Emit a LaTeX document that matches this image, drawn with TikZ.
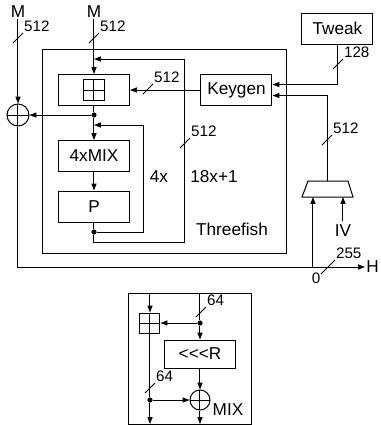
\documentclass[tikz,border=0pt]{standalone}
\usepackage{fontspec}
\setmainfont{Liberation Sans}
\usetikzlibrary{arrows.meta}

\tikzset{
  lbl/.style={font=\fontsize{8.6}{10}\selectfont, inner sep=0.5pt},
  num/.style={font=\fontsize{7.6}{8}\selectfont, inner sep=0.3pt},
  blk/.style={draw, minimum width=35.5pt, minimum height=15.5pt, inner sep=0pt,
    font=\fontsize{8.6}{10}\selectfont},
  cross/.style={path picture={\draw (path picture bounding box.north) -- (path picture bounding box.south)
    (path picture bounding box.west) -- (path picture bounding box.east);}},
  addsq/.style={draw, minimum size=#1, inner sep=0pt, cross},
  addsq/.default=10.5pt,
  xorc/.style={draw, circle, minimum size=#1, inner sep=0pt, cross},
  xorc/.default=11pt,
  dot/.style={circle, fill, inner sep=0pt, minimum size=2.6pt},
  arr/.style={-{Triangle[length=3.4pt,width=2.5pt]}},
  pics/bus/.style={code={\draw (-5,5) -- (5,-5) node[num, anchor=south west] {#1};}}
}

\begin{document}
\begin{tikzpicture}[x=0.5pt,y=-0.5pt,line width=0.5pt]
  \useasboundingbox (0,0) rectangle (381,425);

  \node[draw, minimum width=122pt, minimum height=102pt] (tf) at (165,151) {};
  \node[lbl] (tflbl) at (232,229) {Threefish};
  \node[lbl] (rounds) at (214,177) {18x+1};
  \node[lbl] (four) at (159,177) {4x};

  \node[lbl] (mL) at (18,12) {M};
  \node[lbl] (mR) at (94,12) {M};
  \node[xorc] (xorL) at (18,115) {};
  \node[blk] (add) at (94,90) {};
  \node[addsq] (addg) at (add) {};
  \node[dot] (j1) at (94,115) {};
  \node[blk] (mix4) at (94,156) {4xMIX};
  \node[blk] (perm) at (94,206.5) {P};
  \node[dot] (j2) at (94,232) {};
  \node[blk] (keygen) at (236.5,90) {Keygen};
  \node[blk] (tweak) at (337.5,28.5) {Tweak};
  \draw (302,197) coordinate (muxbl) -- (308,181) -- (348,181) -- (353,197) -- cycle;
  \coordinate (muxtop) at (327.5,181);
  \coordinate (muxbot) at (327.5,197);
  \node[lbl] (iv) at (343,231) {IV};
  \node[lbl, anchor=west] (H) at (365,267) {H};

  \coordinate (in1) at (94,59);
  \coordinate (lp1) at (185,242);
  \coordinate (in2) at (94,125);
  \coordinate (lp2) at (144,232);
  \coordinate (m0) at (313,267);

  \draw[arr] (mL) -- (xorL);
  \draw[arr] (mR) -- (add);
  \draw (add) -- (j1);
  \draw[arr] (j1) -- (xorL);
  \draw[arr] (j1) -- (mix4);
  \draw[arr] (mix4) -- (perm);
  \draw (perm) -- (j2);
  \draw[arr] (j2) -- (lp2) |- (in2);
  \draw[arr] (j2) |- (lp1) |- (in1);
  \draw[arr] (keygen) -- (add);
  \draw[arr] (tweak.south) |- ([yshift=2.75pt]keygen.east);
  \draw[arr] (muxtop) |- ([yshift=-2.75pt]keygen.east);
  \draw[arr] (xorL) |- (H.west);
  \draw[arr] (m0) -- (m0 |- muxbot);
  \draw[arr] ([yshift=1.5pt]iv.north) -- (iv.north |- muxbot);

  \pic at (18,38) {bus=512};
  \pic at (94,38) {bus=512};
  \pic at (148,89) {bus=512};
  \pic at (338,64) {bus=128};
  \pic at (327,140) {bus=512};
  \pic at (185,143) {bus=512};
  \draw (321,274) -- (335,260) node[num, anchor=south west] {255};
  \node[num] (zero) at (316,278) {0};

  \node[draw, minimum width=61.5pt, minimum height=65.5pt] (mixbox) at (190.5,358.5) {};
  \node[lbl] (mixlbl) at (228,410) {MIX};
  \node[addsq=10pt] (add2) at (150,323) {};
  \node[blk, minimum height=14pt] (rot) at (200,354) {{<}{<}{<}R};
  \node[xorc=10pt] (xor2) at (200,400) {};
  \node[dot] (jm1) at (150,400) {};
  \node[dot] (jm2) at (200,323) {};
  \coordinate (t1) at (150,293);
  \coordinate (t2) at (200,293);
  \coordinate (b1) at (150,424);
  \coordinate (b2) at (200,424);

  \draw[arr] (t1) -- (add2);
  \draw (add2) -- (jm1);
  \draw[arr] (jm1) -- (b1);
  \draw[arr] (jm1) -- (xor2);
  \draw (t2) -- (jm2);
  \draw[arr] (jm2) -- (add2);
  \draw[arr] (jm2) -- (rot);
  \draw[arr] (rot) -- (xor2);
  \draw[arr] (xor2) -- (b2);
  \pic at (201,312) {bus=64};
  \pic at (150,388) {bus=64};
\end{tikzpicture}
\end{document}
